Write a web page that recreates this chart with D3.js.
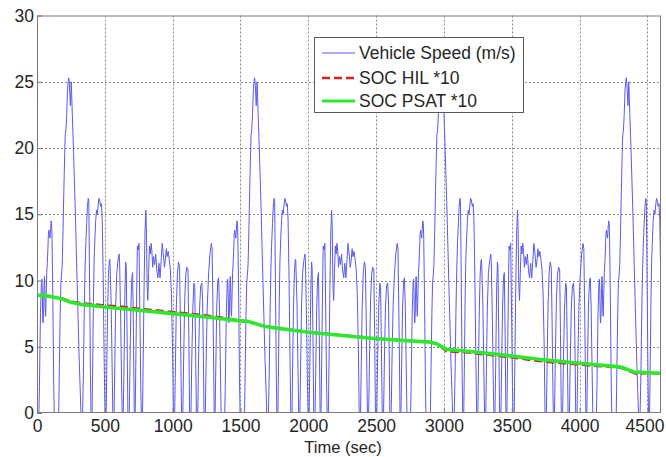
<!DOCTYPE html>
<html>
<head>
<meta charset="utf-8">
<script src="https://cdn.jsdelivr.net/npm/d3@7"></script>
<style>
  html, body { margin: 0; padding: 0; background: #fff; }
  svg text { font-family: "Liberation Sans", Arial, Helvetica, sans-serif; fill: #262626; }
</style>
</head>
<body>
<svg id="chart" width="666" height="457"></svg>
<script>
// One UDDS drive cycle: [time (s), vehicle speed (m/s)]
const speedCycle = [
  [0,0],[14,0],[18,2],[22,5],[26,7.6],[30,9.0],[33,9.9],[36,10.1],[39,9.2],[42,7.2],[45,6.8],[48,7.4],
  [52,9.6],[55,10.3],[58,9.4],[61,7.7],[64,7.3],[68,9.0],[72,10.6],[76,11.3],[80,12.3],[84,13.5],
  [88,13.8],[92,13.4],[96,13.2],[100,13.9],[104,14.5],[108,14.3],[111,13.1],[117,8.5],[123,2.5],[127,0],
  [160,0],[165,3.5],[171,7.5],[176,9.8],[181,10.4],[186,11.2],[192,13.8],[198,16.8],[204,19.5],
  [208,21.0],[213,21.3],[219,22.6],[225,24.4],[230,25.0],[234,25.3],[238,24.9],[242,24.1],[246,23.2],
  [249,23.8],[252,25.0],[255,24.3],[260,22.6],[268,20.2],[282,15.4],[296,9.8],[310,4.4],[324,0],
  [336,0],[342,3],[348,7.5],[354,10.8],[360,12.8],[366,14.3],[372,15.6],[378,16.2],[382,15.9],[388,9.5],
  [394,3],[398,0],
  [406,0],[411,4],[416,8.5],[421,11.5],[427,13.2],[433,14.6],[439,15.3],[445,15.0],[451,15.7],
  [457,16.2],[463,16.0],[469,15.6],[475,15.8],[481,14.6],[488,10.2],[495,4.2],[501,0],
  [510,0],[515,4],[521,8],[527,10.5],[533,11.5],[537,11.6],[543,9.6],[547,8.1],[553,4],[559,0],
  [568,0],[574,4],[580,8],[588,10.6],[597,11.5],[605,12.0],[609,11.4],[617,7],[624,2],[628,0],
  [636,0],[642,4],[648,9],[654,11.4],[658,11.0],[664,6],[670,0],
  [680,0],[686,4],[692,8],[699,10.2],[705,10.6],[711,6],[717,0],
  [724,0],[730,5],[736,10],[740,12.6],[746,12.3],[752,12.8],[758,8],[765,2],[769,0],
  [778,0],[784,5],[790,10],[796,13.6],[802,15.3],[806,14.1],[812,9.6],[817,8.5],[823,10.6],
  [829,12.6],[835,12.0],[841,12.8],[847,12.2],[853,11.0],[859,11.8],[867,11.2],[875,12.0],
  [883,10.8],[891,10.2],[899,11.3],[907,10.2],[915,11.5],[923,12.8],[931,12.0],[939,11.0],
  [945,11.4],[953,12.4],[959,11.8],[967,12.2],[975,11.6],[983,10.8],[991,9.0],[999,5],[1005,0],
  [1015,0],[1021,4],[1027,8],[1035,10.5],[1043,11.4],[1051,11.0],[1057,7],[1063,2],[1066,0],
  [1075,0],[1081,4],[1089,8.5],[1097,10.5],[1105,11.0],[1113,10.8],[1119,6],[1125,0],
  [1135,0],[1141,4],[1149,8],[1157,9.8],[1163,9.5],[1169,5],[1175,0],
  [1185,0],[1191,4],[1199,8],[1207,9.6],[1215,9.8],[1221,8.5],[1227,4],[1231,0],
  [1241,0],[1247,4],[1255,8],[1265,10.5],[1275,12.0],[1285,12.8],[1291,12.4],[1297,8],[1303,3],[1306,0],
  [1313,0],[1319,4],[1325,8],[1333,10.0],[1339,10.2],[1345,8],[1351,4],[1357,0],[1370,0]
];
// The cycle is driven back to back for the whole test
const cyclePeriod = 1370;
const testEnd = 4600;

// Battery state of charge (x10): [time (s), value]
const socPsat = [
  [0,8.9],[100,8.8],[170,8.65],[250,8.35],[320,8.2],[500,8.0],[750,7.75],[1000,7.5],[1250,7.25],
  [1500,6.95],[1560,6.9],[1640,6.65],[1700,6.5],[2000,6.1],[2500,5.6],[2900,5.35],[2950,5.2],
  [3020,4.8],[3160,4.68],[3460,4.35],[3700,4.05],[4000,3.75],[4280,3.5],[4310,3.45],[4400,3.1],[4600,3.0]
];
const socHil = [
  [0,8.9],[170,8.7],[250,8.42],[320,8.3],[500,8.12],[600,8.05],[750,7.88],[1000,7.62],[1250,7.36],
  [1400,7.15],[1500,6.98],[1560,6.92],[1640,6.65],[1700,6.5],[2000,6.12],[2500,5.62],[2900,5.35],
  [2950,5.2],[3020,4.66],[3160,4.58],[3460,4.24],[3700,3.92],[4000,3.64],[4280,3.46],[4320,3.36],
  [4420,2.94],[4470,3.0],[4600,3.0]
];

const xTicks = [0, 500, 1000, 1500, 2000, 2500, 3000, 3500, 4000, 4500];
const yTicks = [0, 5, 10, 15, 20, 25, 30];
const xLabel = "Time (sec)";
const legendLabels = ["Vehicle Speed (m/s)", "SOC HIL *10", "SOC PSAT *10"];

// Full speed trace over the test duration
const speedTrace = [];
for (let k = 0; k * cyclePeriod <= testEnd; k++) {
  for (const [t, v] of speedCycle) {
    const tt = t + k * cyclePeriod;
    if (k > 0 && t === 0) continue;
    if (tt <= testEnd) speedTrace.push([tt, v]);
  }
}

const svg = d3.select("#chart");
const plot = { left: 37, top: 15.5, right: 661, bottom: 413 };

const x = d3.scaleLinear().domain([0, testEnd]).range([plot.left, plot.right]);
const y = d3.scaleLinear().domain([0, 30]).range([plot.bottom, plot.top]);

// Dotted grid
const grid = svg.append("g").attr("stroke", "#8a8a8a").attr("stroke-width", 1)
  .attr("stroke-dasharray", "2,2");
grid.selectAll("line.gx").data(xTicks.filter(d => d > 0)).join("line")
  .attr("x1", d => Math.round(x(d)) + 0.5).attr("x2", d => Math.round(x(d)) + 0.5)
  .attr("y1", plot.top).attr("y2", plot.bottom);
grid.selectAll("line.gy").data(yTicks.filter(d => d > 0 && d < 30)).join("line")
  .attr("x1", plot.left).attr("x2", plot.right)
  .attr("y1", d => Math.round(y(d)) + 0.5).attr("y2", d => Math.round(y(d)) + 0.5);

svg.append("clipPath").attr("id", "plotClip").append("rect")
  .attr("x", plot.left).attr("y", plot.top)
  .attr("width", plot.right - plot.left).attr("height", plot.bottom - plot.top);

const line = d3.line().x(d => x(d[0])).y(d => y(d[1]));
const series = svg.append("g").attr("clip-path", "url(#plotClip)");

series.append("path").datum(speedTrace)
  .attr("d", line).attr("fill", "none")
  .attr("stroke", "#5a5aee").attr("stroke-width", 1).attr("stroke-linejoin", "round");

series.append("path").datum(socHil)
  .attr("d", line).attr("fill", "none")
  .attr("stroke", "#d42020").attr("stroke-width", 2.4).attr("stroke-dasharray", "8,4");

series.append("path").datum(socPsat)
  .attr("d", line).attr("fill", "none")
  .attr("stroke", "#2ee82e").attr("stroke-width", 3.6).attr("stroke-linejoin", "round");

// Axes box
svg.append("rect")
  .attr("x", plot.left + 0.5).attr("y", plot.top + 0.5)
  .attr("width", plot.right - plot.left - 1).attr("height", plot.bottom - plot.top - 1)
  .attr("fill", "none").attr("stroke", "#7a7a7a").attr("stroke-width", 1);

// Axes with inward ticks
const fmt = d3.format("d");
const xAxis = svg.append("g").attr("transform", `translate(0,${plot.bottom})`)
  .call(d3.axisBottom(x).tickValues(xTicks).tickFormat(fmt).tickSize(-5).tickPadding(7));
const yAxis = svg.append("g").attr("transform", `translate(${plot.left},0)`)
  .call(d3.axisLeft(y).tickValues(yTicks).tickFormat(fmt).tickSize(-5).tickPadding(3));
[xAxis, yAxis].forEach(a => {
  a.select(".domain").remove();
  a.selectAll(".tick line").attr("stroke", "#7a7a7a");
  a.selectAll(".tick text").attr("font-size", 17.5).attr("fill", "#262626")
    .attr("font-family", "'Liberation Sans', Arial, sans-serif");
});
// keep the last x label inside the figure edge
xAxis.selectAll(".tick text").filter(d => d === xTicks[xTicks.length - 1]).attr("dx", -3);

svg.append("text")
  .attr("x", 343).attr("y", 453)
  .attr("text-anchor", "middle").attr("font-size", 16.5)
  .text(xLabel);

// Legend
const legend = svg.append("g");
legend.append("rect")
  .attr("x", 314.5).attr("y", 37.5).attr("width", 209).attr("height", 75)
  .attr("fill", "#fff").attr("stroke", "#5a5a5a").attr("stroke-width", 1);
const legendStyles = [
  { stroke: "#5a5aee", width: 1, dash: null },
  { stroke: "#d42020", width: 2.6, dash: "8,4" },
  { stroke: "#2ee82e", width: 3.2, dash: null }
];
const rowY = [53, 78, 101];
legendLabels.forEach((label, i) => {
  legend.append("line")
    .attr("x1", 322).attr("x2", 355).attr("y1", rowY[i]).attr("y2", rowY[i])
    .attr("stroke", legendStyles[i].stroke).attr("stroke-width", legendStyles[i].width)
    .attr("stroke-dasharray", legendStyles[i].dash);
  legend.append("text")
    .attr("x", 359).attr("y", rowY[i] + 6)
    .attr("font-size", 17.5)
    .text(label);
});
</script>
</body>
</html>
